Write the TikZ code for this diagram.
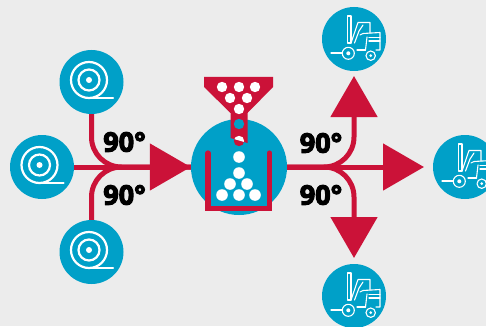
\documentclass[tikz,border=0pt]{standalone}
\usepackage{fontspec}
\setmainfont{Open Sans}[BoldFeatures={FakeBold=4}]
\usetikzlibrary{arrows.meta}
\definecolor{bgc}{HTML}{ECECEC}
\definecolor{bluec}{HTML}{00A0C8}
\definecolor{redc}{HTML}{CB1238}
\tikzset{
  x=1pt,y=-1pt,
  disc/.style={circle,fill=bluec,inner sep=0pt,minimum size=#1},
  unit/.style={disc=64pt},
  flow/.style={draw=redc,line width=5pt,rounded corners=30pt},
  headR/.style={-{Triangle[length=41pt,width=46pt,color=redc]}},
  ninety/.style={font=\fontsize{27}{27}\selectfont\bfseries,inner sep=0pt,text=black},
  ball/.style={fill=white},
  icon/.style={draw=white,line width=1.1pt,line cap=round,line join=round},
  spoolpic/.pic={
    \draw[white,line width=2.2pt] (-2.5,-2) circle (18);
    \draw[white,line width=2.2pt] (-2.5,-2) circle (10.5);
    \fill[white] (-2.5,-2) circle (3);
    \draw[white,line width=2.2pt,line cap=round] (-2.5,16) -- (21.5,16);
  },
  forkpic/.pic={
    \draw[icon] (-6.3,-23) rectangle (-3,4);
    \draw[icon] (-23,14) -- (-11.5,14);
    \draw[icon] (-5.7,14.3) circle (6);
    \fill[white] (-5.7,14.3) circle (2);
    \draw[icon] (16.7,16.7) circle (4.7);
    \fill[white] (16.7,16.7) circle (1.5);
    \draw[icon] (-3,4) -- (4,-16.5) -- (16,-16.5) -- (16,-6);
    \draw[icon] (0.5,4) -- (5,-8) -- (9,-14);
    \draw[icon] (6,-4) -- (9,-5.5) -- (26,-6.5) -- (26,11) -- (22,11);
    \draw[icon] (3,11) -- (11.5,11) ;
    \draw[icon] (11.5,11) -- (13,-2);
    \draw[icon] (15,-1.5) -- (26,-1.5);
    \draw[icon] (15,2) -- (26,2);
  },
}
\begin{document}
\begin{tikzpicture}
\useasboundingbox (0,0) rectangle (486,326);
\clip (0,0) rectangle (486,326);
\fill[bgc] (0,0) rectangle (486,326);

\node[unit] (spoolT) at (91.5,82) {};
\node[unit] (spoolL) at (42,167) {};
\node[unit] (spoolB) at (91.5,252) {};
\node[disc=96pt] (hub) at (239,167) {};
\node[unit] (forkT) at (354,39) {};
\node[unit] (forkR) at (465,167) {};
\node[unit] (forkB) at (354,296) {};

\coordinate (tipT) at (354,76);
\coordinate (tipR) at (424,167);
\coordinate (tipB) at (354,258);

% inbound connectors
\draw[flow] (spoolT.south) |- (hub.west);
\draw[flow] (spoolB.north) |- (hub.west);
\draw[flow,headR] (spoolL.east) -- (hub.west);

% outbound connectors
\draw[flow,headR] (hub.east) -- (tipR);
\draw[flow,headR] (hub.east) -| (tipT);
\draw[flow,headR] (hub.east) -| (tipB);

\node[ninety] (lblA) at (124.5,142) {90°};
\node[ninety] (lblB) at (124.5,195) {90°};
\node[ninety] (lblC) at (321,143) {90°};
\node[ninety] (lblD) at (321,195) {90°};

\pic at (spoolT) {spoolpic};
\pic at (spoolL) {spoolpic};
\pic at (spoolB) {spoolpic};
\pic at (forkT) {forkpic};
\pic at (forkR) {forkpic};
\pic at (forkB) {forkpic};

% hopper
\fill[redc] (204,77) -- (273,77) -- (273,87) -- (247.5,113) -- (247.5,143) -- (230.5,138) -- (230.5,113) -- (204,87) -- cycle;
\foreach \p in {(222,87),(239,87),(255,87),(230,98),(247,98),(239,109)}
  \fill[ball] \p circle (5.2);
\fill[bluec] (239,124) circle (5.2);
\fill[redc] (239,141) circle (5.2);
\begin{scope}
  \clip (230.5,138) -- (247.5,143) -- (247.5,120) -- (230.5,120) -- cycle;
  \fill[ball] (239,141) circle (5.2);
\end{scope}

% bin
\draw[redc,line width=5.2pt,line cap=round,line join=miter] (208,153) -- (208,208.5) -- (269.5,208.5) -- (269.5,153);
\foreach \p in {(239,157),(239,173),(230,184),(247,184),(222,195),(239,195),(255,195)}
  \fill[ball] \p circle (5.8);
\end{tikzpicture}
\end{document}
